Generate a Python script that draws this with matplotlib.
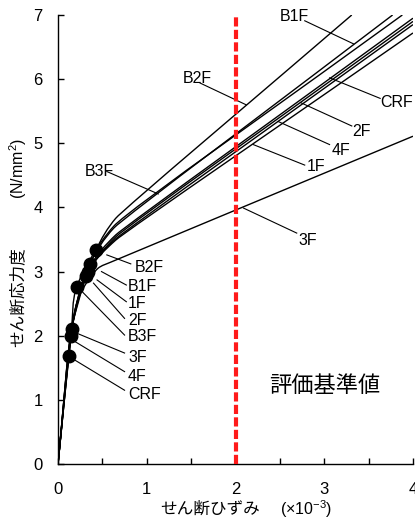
import matplotlib
matplotlib.use('Agg')
import matplotlib.pyplot as plt
from matplotlib.path import Path
from matplotlib.patches import PathPatch
from matplotlib import font_manager
import numpy as np

avail = {f.name for f in font_manager.fontManager.ttflist}
LAT = 'Liberation Sans Narrow' if 'Liberation Sans Narrow' in avail else 'Liberation Sans'
plt.rcParams['font.family'] = [LAT, 'Noto Sans CJK JP']
plt.rcParams['mathtext.fontset'] = 'custom'
plt.rcParams['mathtext.rm'] = LAT
plt.rcParams['mathtext.it'] = LAT + ':italic'

# ---------------- data ----------------
names = ['CRF', '4F', '3F', '2F', '1F', 'B1F', 'B2F', 'B3F']

crf_x = [0, 0.124, 0.20, 0.36, 0.65, 4.0]
crf_y = [0, 1.69, 2.45, 3.08, 3.57, 6.95]
f4_x = [0, 0.143, 0.21, 0.36, 0.65, 4.0]
f4_y = [0, 1.99, 2.50, 3.05, 3.51, 6.85]
f3_x = [0, 0.154, 0.25, 0.45, 0.60, 4.0]
f3_y = [0, 2.10, 2.65, 3.05, 3.15, 5.11]
f2_x = [0, 0.15, 0.31, 0.65, 4.0]
f2_y = [0, 2.07, 2.93, 3.54, 6.90]
f1_x = [0, 0.15, 0.34, 0.65, 4.0]
f1_y = [0, 2.07, 3.00, 3.49, 6.72]
b1f_x = [0, 0.155, 0.36, 0.63, 3.77]
b1f_y = [0, 2.12, 3.12, 3.68, 7.0]
b2f_x = [0, 0.16, 0.43, 0.65, 3.31]
b2f_y = [0, 2.15, 3.34, 3.83, 7.0]
b3f_x = [0, 0.15, 0.21, 0.63, 3.88]
b3f_y = [0, 2.07, 2.76, 3.71, 7.0]

curves_x = [crf_x, f4_x, f3_x, f2_x, f1_x, b1f_x, b2f_x, b3f_x]
curves_y = [crf_y, f4_y, f3_y, f2_y, f1_y, b1f_y, b2f_y, b3f_y]

# marked points (one per series, same order as names)
dot_x = [0.124, 0.143, 0.154, 0.31, 0.34, 0.36, 0.43, 0.21]
dot_y = [1.69, 1.99, 2.10, 2.93, 3.00, 3.12, 3.34, 2.76]

criterion_strain = 2.0
criterion_label = '評価基準値'

# ---------------- figure ----------------
fig = plt.figure(figsize=(4.15, 5.21), dpi=100)
ax = fig.add_axes([58/415, 1-464/521, 355/415, 449/521])
ax.set_xlim(0, 4)
ax.set_ylim(0, 7)

SX, SY = 355/4.0, 449/7.0  # only used to make the smoothing isotropic on screen


def smooth_path(xs, ys):
    P = np.column_stack([np.asarray(xs, float) * SX, np.asarray(ys, float) * SY])
    n = len(P)
    seg = [np.linalg.norm(P[i + 1] - P[i]) for i in range(n - 1)]
    dirs, h = [], []
    for i in range(n):
        if i == 0:
            d = P[1] - P[0]
            hh = seg[0] / 3
        elif i == n - 1:
            d = P[-1] - P[-2]
            hh = seg[-1] / 3
        else:
            u1 = (P[i] - P[i - 1]) / seg[i - 1]
            u2 = (P[i + 1] - P[i]) / seg[i]
            d = u1 + u2
            hh = min(seg[i - 1], seg[i]) / 3
        dirs.append(d / np.linalg.norm(d))
        h.append(hh)
    verts = [P[0]]
    codes = [Path.MOVETO]
    for i in range(n - 1):
        c1 = P[i] + dirs[i] * min(h[i], seg[i] / 3)
        c2 = P[i + 1] - dirs[i + 1] * min(h[i + 1], seg[i] / 3)
        verts += [c1, c2, P[i + 1]]
        codes += [Path.CURVE4] * 3
    V = np.array(verts)
    V[:, 0] /= SX
    V[:, 1] /= SY
    return Path(V, codes)


for xs, ys in zip(curves_x, curves_y):
    ax.add_patch(PathPatch(smooth_path(xs, ys), fill=False, ec='black',
                           lw=1.0, zorder=3, capstyle='butt'))

ax.axvline(criterion_strain, color='#ff1a1a', lw=3.0, ls=(0, (2.2, 0.8)), zorder=4)

FS = 11.5
lw_lead = 0.8
upper = {
    'B1F': ((2.50, 6.97), (2.78, 6.91), (3.33, 6.55)),
    'B2F': ((1.40, 6.01), (1.60, 5.94), (2.12, 5.60)),
    'B3F': ((0.30, 4.56), (0.55, 4.56), (1.13, 4.21)),
    'CRF': ((3.63, 5.63), (3.63, 5.70), (3.06, 6.02)),
    '2F': ((3.31, 5.18), (3.31, 5.27), (2.74, 5.63)),
    '4F': ((3.08, 4.89), (3.06, 4.98), (2.48, 5.34)),
    '1F': ((2.80, 4.64), (2.78, 4.66), (2.20, 4.98)),
    '3F': ((2.71, 3.49), (2.69, 3.60), (2.09, 3.99)),
}
for name, (tpos, p0, p1) in upper.items():
    ax.plot([p0[0], p1[0]], [p0[1], p1[1]], color='black', lw=lw_lead, zorder=2)
    ax.text(tpos[0], tpos[1], name, fontsize=FS, ha='left', va='center', zorder=5)

lower = {
    'B2F': ((0.86, 3.07), (0.55, 3.26), (0.82, 3.12)),
    'B1F': ((0.79, 2.77), (0.49, 3.00), (0.77, 2.79)),
    '1F': ((0.79, 2.50), (0.44, 2.87), (0.77, 2.53)),
    '2F': ((0.79, 2.23), (0.40, 2.82), (0.75, 2.27)),
    'B3F': ((0.79, 1.99), (0.27, 2.69), (0.75, 2.01)),
    '3F': ((0.79, 1.66), (0.21, 2.04), (0.75, 1.73)),
    '4F': ((0.79, 1.37), (0.19, 1.91), (0.75, 1.44)),
    'CRF': ((0.79, 1.09), (0.19, 1.62), (0.75, 1.15)),
}
for name, (tpos, p0, p1) in lower.items():
    ax.plot([p0[0], p1[0]], [p0[1], p1[1]], color='black', lw=lw_lead, zorder=2)
    ax.text(tpos[0], tpos[1], name, fontsize=FS, ha='left', va='center', zorder=5)

ax.plot(dot_x, dot_y, 'o', color='black', ms=9, zorder=6, clip_on=False)

ax.text(3.01, 1.22, criterion_label, fontsize=16, ha='center', va='center',
        family=['Noto Sans CJK JP'])

ax.set_xticks([0, 1, 2, 3, 4])
ax.set_xticks([0.5, 1.5, 2.5, 3.5], minor=True)
ax.set_yticks(range(0, 8))
for s in ['top', 'right']:
    ax.spines[s].set_visible(False)
for s in ['left', 'bottom']:
    ax.spines[s].set_linewidth(1.0)
ax.tick_params(axis='both', which='both', direction='in', length=4, width=1.0,
               labelsize=12)
ax.tick_params(axis='x', which='major', pad=13)
ax.tick_params(axis='y', which='major', pad=11)

# axis titles
fig.text(160/415, 1-509/521, 'せん断ひずみ', fontsize=12, ha='left', va='center',
         family=['Noto Sans CJK JP'])
fig.text(280/415, 1-509/521, '(×10$^{-3}$)', fontsize=11.5, ha='left', va='center')
fig.text(18/415, 1-297/521, 'せん断応力度', fontsize=12, ha='center', va='center',
         rotation=90, family=['Noto Sans CJK JP'])
fig.text(18/415, 1-168/521, '(N/mm$^{2}$)', fontsize=11.5, ha='center', va='center',
         rotation=90)

fig.savefig('out.png', dpi=100)
